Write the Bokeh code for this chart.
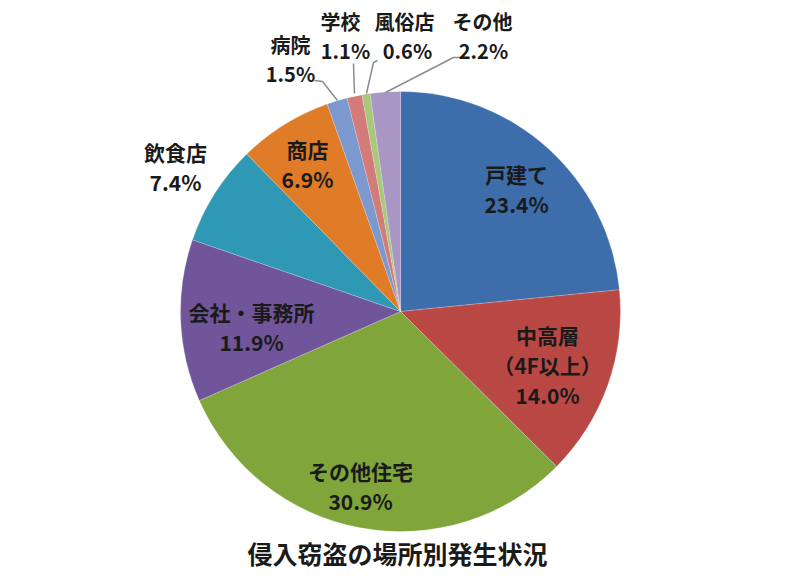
import math
import pandas as pd
from bokeh.plotting import figure
from bokeh.models import Range1d, ColumnDataSource
from bokeh.core.properties import value
from bokeh.embed import file_html
from bokeh.resources import INLINE

# ---- data ----
categories = ["戸建て", "中高層\n（4F以上）", "その他住宅", "会社・事務所", "飲食店",
              "商店", "病院", "学校", "風俗店", "その他"]
shares = [23.4, 14.0, 30.9, 11.9, 7.4, 6.9, 1.5, 1.1, 0.6, 2.2]
colors = ["#3D6DAA", "#B94845", "#7FA53B", "#71559B", "#2F98B4",
          "#E07B28", "#7B98CF", "#D27B79", "#A8C97B", "#A996C4"]
title_text = "侵入窃盗の場所別発生状況"

# ---- layout (screen px, converted to data coords) ----
W, H = 784, 572
def Y(sy):
    return H - sy

cx, cy, R = 400, 311, 220
label_pos = [(516, 173), (547, 334), (360, 470), (251, 311), (175, 151),
             (307, 148), (290, 44), (340, 21), (404, 21), (482, 21)]
line_gap = 30
small_gap = 29
leaders = {
    6: [(314, 80), (322, 81), (337, 100)],
    7: [(353, 63), (354, 93)],
    8: [(377, 60), (373, 62), (366, 93)],
    9: [(461, 57), (453, 57), (385, 92)],
}

total = sum(shares)
df = pd.DataFrame({"cat": categories, "share": shares, "color": colors})
df["angle"] = df["share"] / total * 2 * math.pi
df["end"] = math.pi / 2 - df["angle"].cumsum()
df["start"] = df["end"] + df["angle"]
df["x"] = cx
df["y"] = Y(cy)

p = figure(width=W, height=H, output_backend="svg", toolbar_location=None,
           x_range=Range1d(0, W), y_range=Range1d(0, H),
           min_border=0, outline_line_color=None, background_fill_color="white",
           border_fill_color="white")
p.axis.visible = False
p.grid.visible = False

p.wedge(x="x", y="y", radius=R, start_angle="start", end_angle="end",
        direction="clock", fill_color="color", line_color="white",
        line_width=0.5, line_alpha=0.4, source=ColumnDataSource(df))

# leader lines
for i, pts in leaders.items():
    p.line([q[0] for q in pts], [Y(q[1]) for q in pts], line_color="#8C8C8C", line_width=1.5)

# labels
pct_x = {6: 290, 7: 345, 8: 407, 9: 483}
tx, ty, tt, ts = [], [], [], []
for i, (cat, s) in enumerate(zip(categories, shares)):
    lines = cat.split("\n") + [f"{s:.1f}%"]
    x0, y0 = label_pos[i]
    gap = small_gap if i >= 6 else line_gap
    for k, ln in enumerate(lines):
        is_pct = k == len(lines) - 1
        tx.append(pct_x.get(i, x0) if is_pct else x0)
        ty.append(Y(y0 + k * gap))
        tt.append(ln)
        ts.append("20px" if i >= 6 else "21px")

src = ColumnDataSource(dict(x=tx, y=ty, text=tt, size=ts))
p.text(x="x", y="y", text="text", text_font_size="size", source=src,
       text_align="center", text_baseline="middle",
       text_font=value("Noto Sans CJK JP"), text_font_style="bold",
       text_color="#1A1A1A")

p.text(x=[397], y=[Y(552)], text=[title_text], text_align="center", text_baseline="middle",
       text_font=value("Noto Sans CJK JP"), text_font_style="bold",
       text_font_size="25px", text_color="#1A1A1A")

open("out.html", "w").write(file_html(p, INLINE))
